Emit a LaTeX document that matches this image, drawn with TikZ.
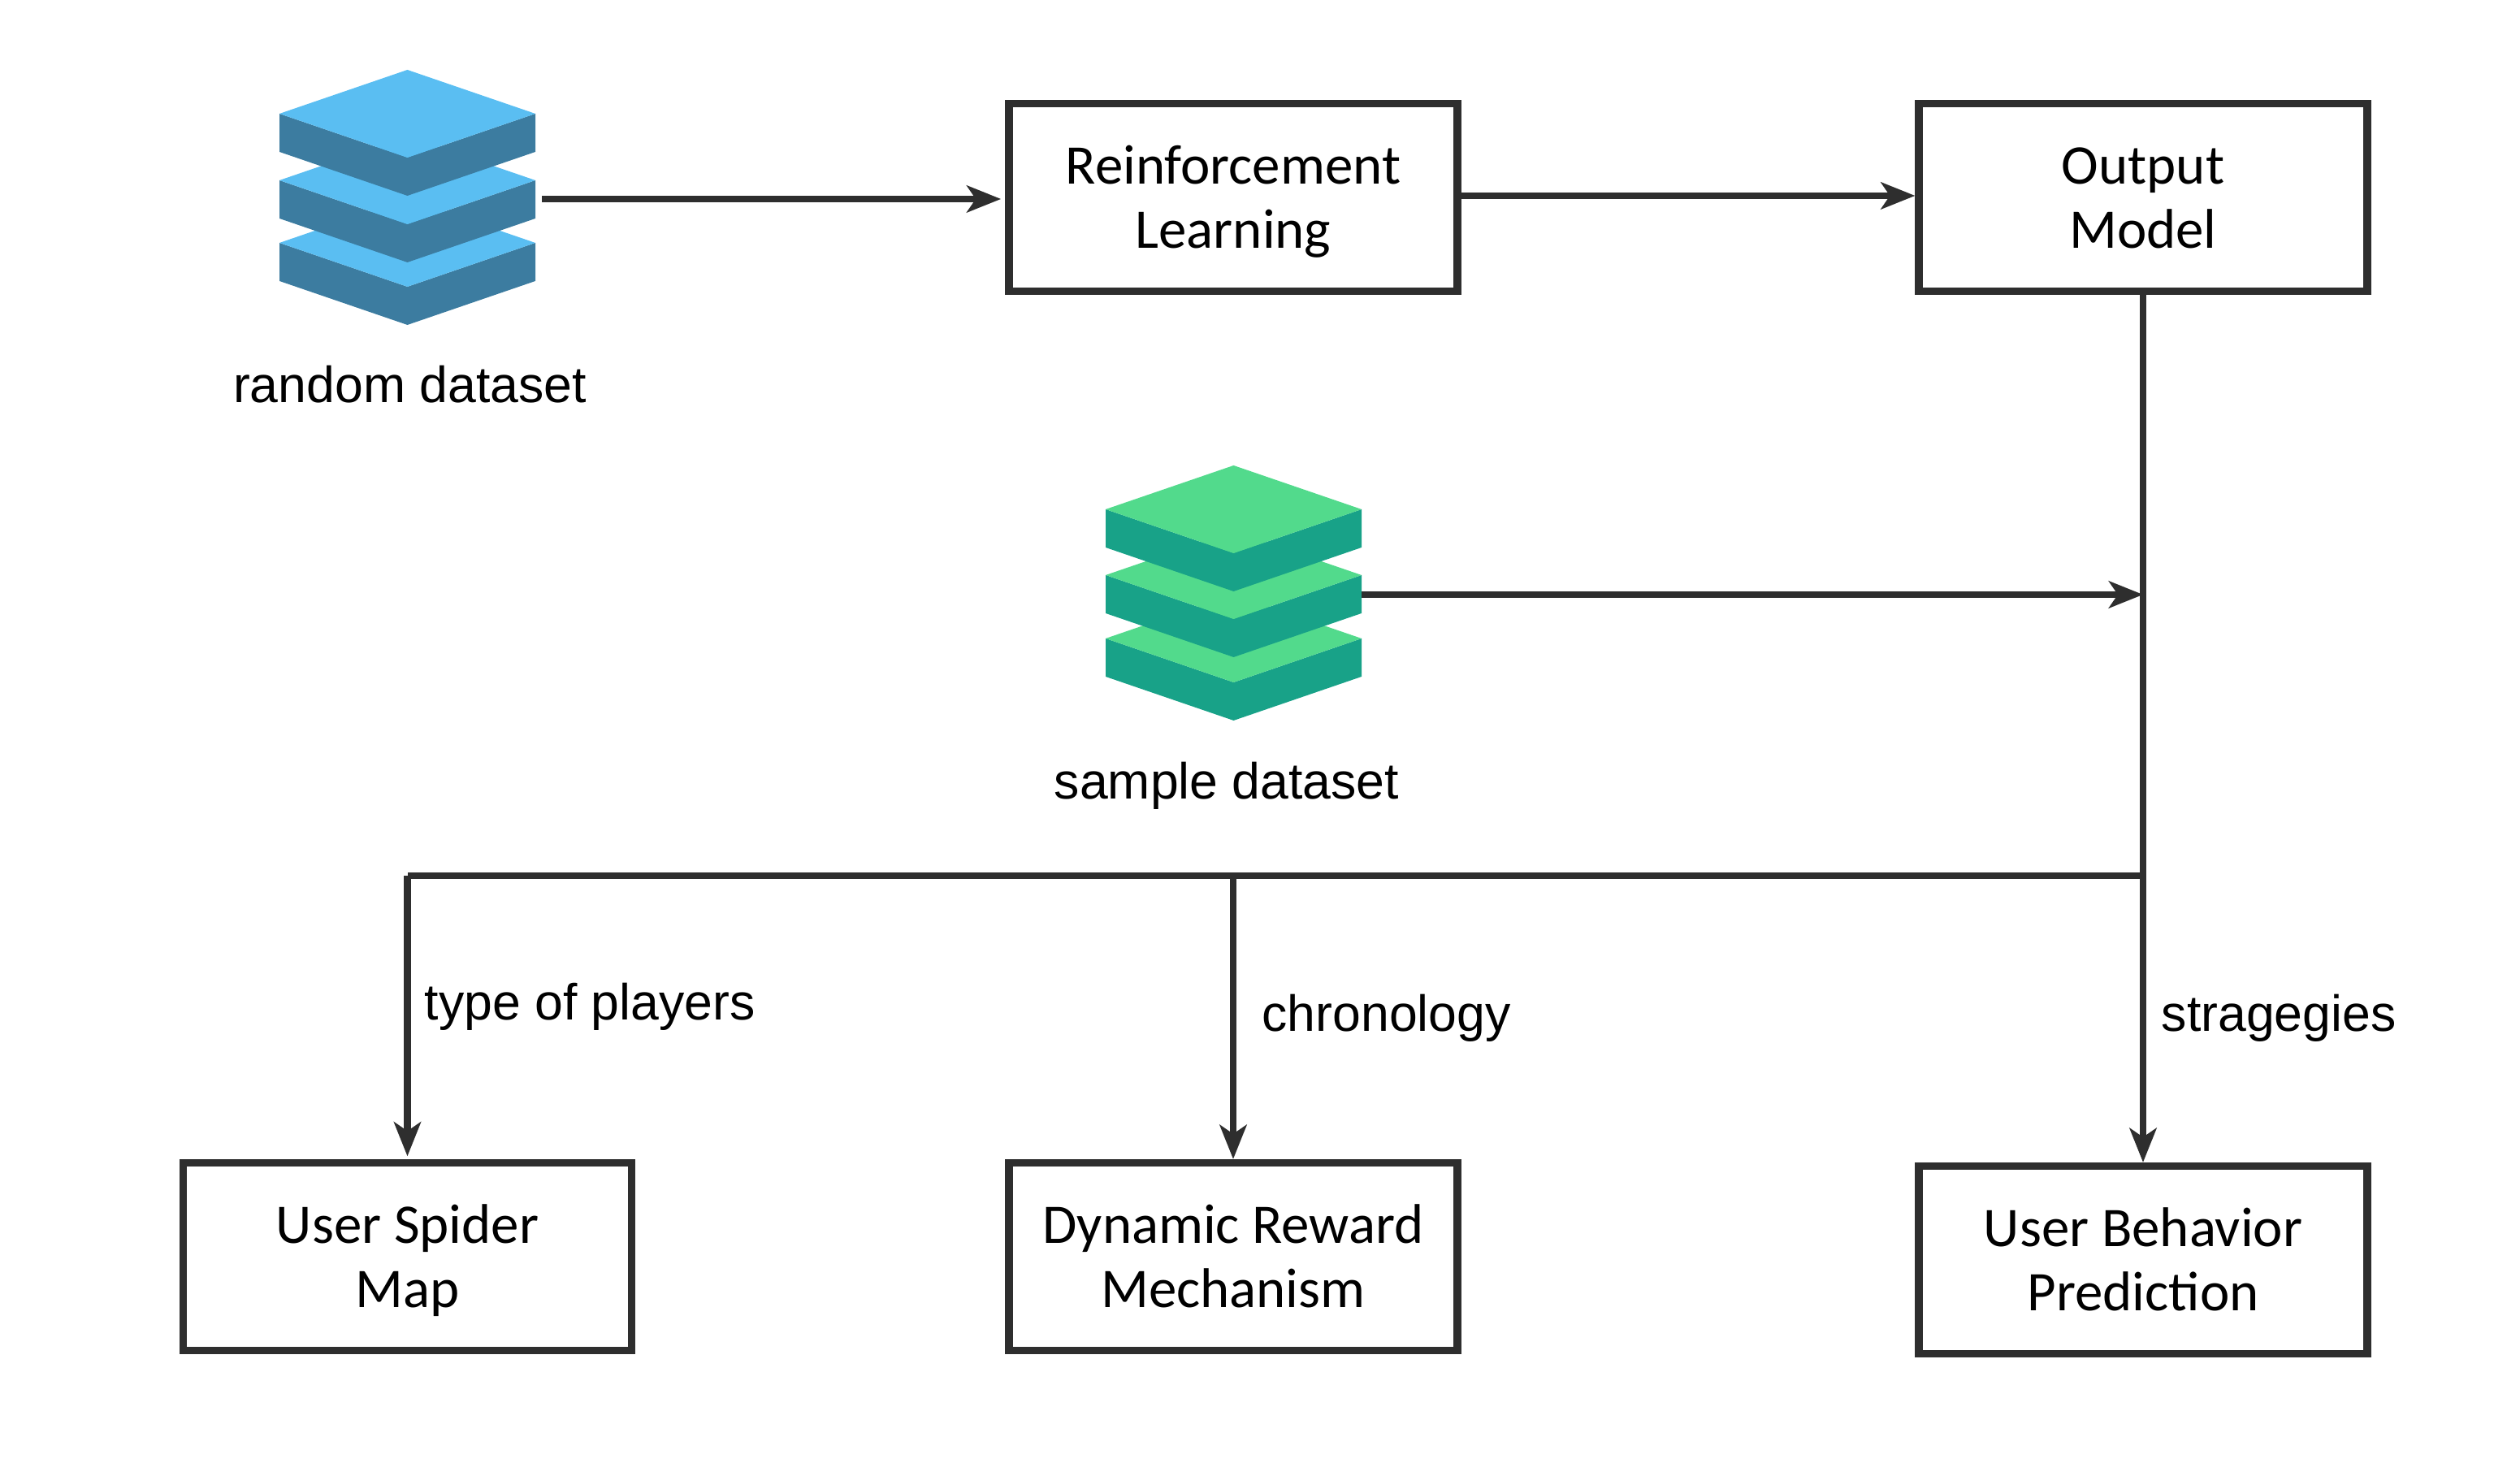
\documentclass[tikz,border=0pt]{standalone}
\usepackage{fontspec}
\setmainfont{Liberation Sans}
\newfontfamily\boxfont{Carlito}
\usetikzlibrary{arrows.meta}
\definecolor{linegray}{HTML}{2E2E2E}
\definecolor{bluetop}{HTML}{5ABEF2}
\definecolor{blueside}{HTML}{3C7CA0}
\definecolor{greentop}{HTML}{52DA8C}
\definecolor{greenside}{HTML}{18A288}
\tikzset{
 flowbox/.style={draw=linegray,line width=2.6pt,fill=white,minimum width=5.52cm,minimum height=2.31cm,
  inner sep=0pt,align=center,font=\boxfont\fontsize{19.6}{22.5}\selectfont},
 plainlabel/.style={inner sep=0pt,font=\fontsize{17.8}{22}\selectfont},
 flowline/.style={draw=linegray,line width=2.5pt},
 flowarrow/.style={flowline,-{Stealth[length=4.2mm,width=3.3mm,inset=1.1mm]}},
}
% struts that hold the two lines of a box at one height
\newcommand{\topline}{\rule[-0.3\baselineskip]{0pt}{\dimexpr\baselineskip+4pt\relax}}
% one plate of a stack: centre x, top y
\newcommand{\plate}[4]{
 \fill[#4] (#1-1.575,#2-0.54) -- (#1,#2-1.08) -- (#1+1.575,#2-0.54) -- (#1+1.575,#2-1.01) -- (#1,#2-1.55) -- (#1-1.575,#2-1.01) -- cycle;
 \fill[#3] (#1,#2) -- (#1+1.575,#2-0.54) -- (#1,#2-1.08) -- (#1-1.575,#2-0.54) -- cycle;
}
\begin{document}
\begin{tikzpicture}[x=1cm,y=1cm]
 \useasboundingbox (0,0) rectangle (31.02,18.17);
 % blue stack
 \plate{5.015}{15.72}{bluetop}{blueside}
 \plate{5.015}{16.49}{bluetop}{blueside}
 \plate{5.015}{17.31}{bluetop}{blueside}
 % green stack
 \plate{15.185}{10.85}{greentop}{greenside}
 \plate{15.185}{11.63}{greentop}{greenside}
 \plate{15.185}{12.44}{greentop}{greenside}
 \coordinate (randomout) at (6.67,15.72);
 \coordinate (sampleout) at (16.76,10.85);
 \node [plainlabel] (randomlabel) at (5.045,13.44) {random dataset};
 \node [plainlabel] (samplelabel) at (15.10,8.50) {sample dataset};
 \node [flowbox] (rl) at (15.18,15.74) {\topline Reinforcement\\Learning\strut};
 \node [flowbox] (output) at (26.38,15.74) {\topline Output\\Model\strut};
 \node [flowbox] (spider) at (5.015,2.70) {\topline User Spider\\Map\strut};
 \node [flowbox] (reward) at (15.18,2.70) {\topline Dynamic Reward\\Mechanism\strut};
 \node [flowbox] (behavior) at (26.38,2.66) {\topline User Behavior\\Prediction\strut};
 \coordinate (split) at (26.38,7.39);
 \coordinate (join) at (26.38,10.85);
 \coordinate (left) at (5.015,7.39);
 \coordinate (mid) at (15.18,7.39);
 \draw [flowarrow,shorten >=1.5pt] (randomout) -- (rl.west |- randomout);
 \draw [flowarrow] (rl.east |- 0,15.76) -- (output.west |- 0,15.76);
 \draw [flowarrow] (output.south) -- (behavior.north);
 \draw [flowarrow] (sampleout) -- (join);
 \draw [flowline] (split) -- (left);
 \draw [flowarrow,shorten >=1pt] (left) -- (spider.north);
 \draw [flowarrow] (mid) -- (reward.north);
 \node [plainlabel,anchor=west] (playerstext) at (5.22,5.78) {type of players};
 \node [plainlabel,anchor=west] (chronotext) at (15.53,5.64) {chronology};
 \node [plainlabel,anchor=west] (stratext) at (26.60,5.64) {stragegies};
\end{tikzpicture}
\end{document}
